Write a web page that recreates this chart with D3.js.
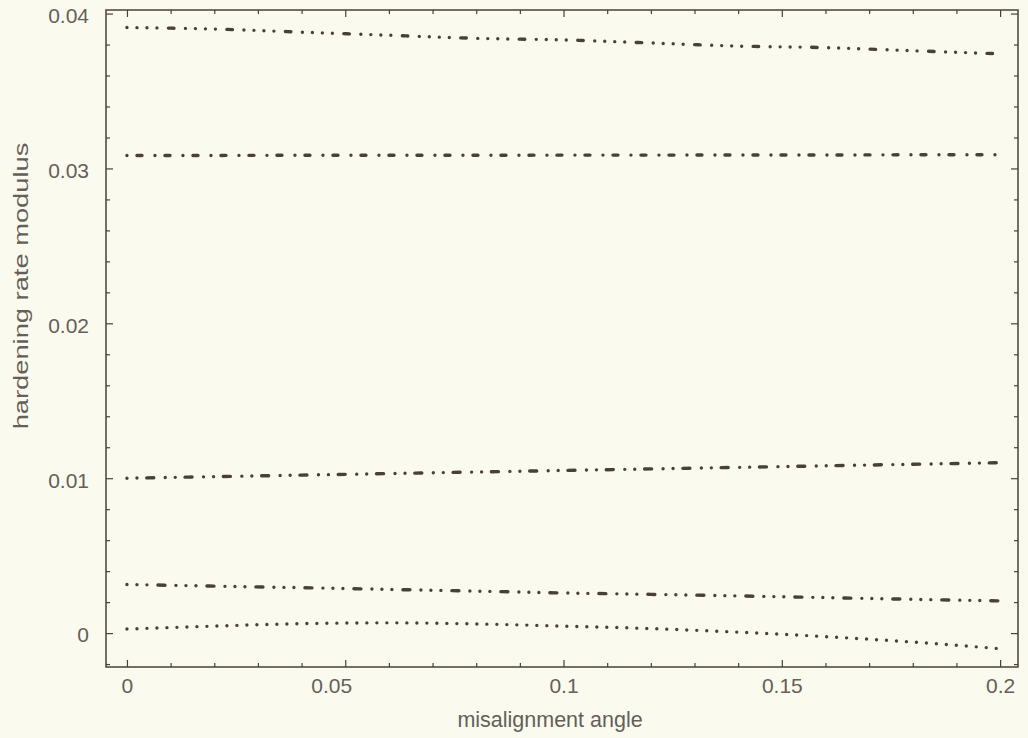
<!DOCTYPE html>
<html>
<head>
<meta charset="utf-8">
<script src="https://cdn.jsdelivr.net/npm/d3@7"></script>
<style>
  html, body { margin: 0; padding: 0; background: #fbfaee; }
  svg { display: block; }
  text { font-family: "Liberation Sans", Arial, sans-serif; }
</style>
</head>
<body>
<svg id="chart" width="1028" height="738"></svg>
<script>
// ---- data ----
const angles = [0, 0.02, 0.04, 0.06, 0.08, 0.10, 0.12, 0.14, 0.16, 0.18, 0.2];
const curveA = [0.0391, 0.0390, 0.0388, 0.0386, 0.0384, 0.0383, 0.0381, 0.0379, 0.0378, 0.0376, 0.0374];
const curveB = [0.03084, 0.03084, 0.03085, 0.03085, 0.03085, 0.03086, 0.03086, 0.03087, 0.03087, 0.03088, 0.03088];
const curveC = [0.0100, 0.0101, 0.0102, 0.0103, 0.0104, 0.0105, 0.0106, 0.0107, 0.0108, 0.0109, 0.0110];
const curveD = [0.00314, 0.00303, 0.00293, 0.00282, 0.00271, 0.00259, 0.00250, 0.00240, 0.00229, 0.00218, 0.00208];
const curveE = [0.00026, 0.00045, 0.00061, 0.00066, 0.00059, 0.00045, 0.00029, 0.00006, -0.00023, -0.00058, -0.00101];

const xTickValues = [0, 0.05, 0.1, 0.15, 0.2];
const xTickLabels = ["0", "0.05", "0.1", "0.15", "0.2"];
const yTickValues = [0, 0.01, 0.02, 0.03, 0.04];
const yTickLabels = ["0", "0.01", "0.02", "0.03", "0.04"];
const xMinorTicks = [0.01,0.02,0.03,0.04,0.06,0.07,0.08,0.09,0.11,0.12,0.13,0.14,0.16,0.17,0.18,0.19];
const yMinorTicks = [-0.002,0.002,0.004,0.006,0.008,0.012,0.014,0.016,0.018,0.022,0.024,0.026,0.028,0.032,0.034,0.036,0.038];

const xTitle = "misalignment angle";
const yTitle = "hardening rate modulus";

const series = [
  { values: curveA, dash: "0 10 0 10 0 10 0 11.5 5.5 11.5" },
  { values: curveB, dash: "0 10 5 13" },
  { values: curveC, dash: "0 10 0 9.8 7 11.5" },
  { values: curveD, dash: "0 10 0 10 0 11 7 11" },
  { values: curveE, dash: "0 10" }
];

// ---- layout ----
const L = 106, R = 1018, T = 10, B = 667;
const x = d3.scaleLinear().domain([-0.0048, 0.2041]).range([L, R]);
const y = d3.scaleLinear().domain([-0.00219, 0.04023]).range([B, T]);

const svg = d3.select("#chart");
const ink = "#4a403b";
const textCol = "#645f59";

// lines
const line = d3.line()
  .x((d, i) => x(angles[i]))
  .y(d => y(d))
  .curve(d3.curveMonotoneX);

svg.append("g").selectAll("path")
  .data(series)
  .join("path")
  .attr("d", d => line(d.values))
  .attr("fill", "none")
  .attr("stroke", ink)
  .attr("stroke-width", 3.4)
  .attr("stroke-linecap", "round")
  .attr("stroke-dasharray", d => d.dash);

// axes helper
function styleAxis(g) {
  g.select(".domain").remove();
  g.selectAll(".tick line").attr("stroke", ink).attr("stroke-width", 1.2);
  g.selectAll(".tick text").attr("fill", textCol).attr("font-size", 21);
}

// bottom major
const bottomAxis = svg.append("g").attr("transform", `translate(0,${B})`)
  .call(d3.axisBottom(x).tickValues(xTickValues).tickSize(-7).tickPadding(11)
    .tickFormat((d, i) => xTickLabels[i]))
  .call(styleAxis);
// the reference prints "0.05" slightly left of its tick
bottomAxis.selectAll(".tick text").attr("dx", d => d === 0.05 ? -14 : 0);
// bottom minor
svg.append("g").attr("transform", `translate(0,${B})`)
  .call(d3.axisBottom(x).tickValues(xMinorTicks).tickSize(-4).tickFormat(""))
  .call(styleAxis);
// top major/minor
svg.append("g").attr("transform", `translate(0,${T})`)
  .call(d3.axisTop(x).tickValues(xTickValues).tickSize(-7).tickFormat(""))
  .call(styleAxis);
svg.append("g").attr("transform", `translate(0,${T})`)
  .call(d3.axisTop(x).tickValues(xMinorTicks).tickSize(-4).tickFormat(""))
  .call(styleAxis);
// left major
const leftAxis = svg.append("g").attr("transform", `translate(${L},0)`)
  .call(d3.axisLeft(y).tickValues(yTickValues).tickSize(-7).tickPadding(17)
    .tickFormat((d, i) => yTickLabels[i]))
  .call(styleAxis);
leftAxis.selectAll(".tick text").attr("dy", "0.42em");
svg.append("g").attr("transform", `translate(${L},0)`)
  .call(d3.axisLeft(y).tickValues(yMinorTicks).tickSize(-4).tickFormat(""))
  .call(styleAxis);
// right major/minor
svg.append("g").attr("transform", `translate(${R},0)`)
  .call(d3.axisRight(y).tickValues(yTickValues).tickSize(-7).tickFormat(""))
  .call(styleAxis);
svg.append("g").attr("transform", `translate(${R},0)`)
  .call(d3.axisRight(y).tickValues(yMinorTicks).tickSize(-4).tickFormat(""))
  .call(styleAxis);

// frame
svg.append("rect")
  .attr("x", L).attr("y", T).attr("width", R - L).attr("height", B - T)
  .attr("fill", "none").attr("stroke", ink).attr("stroke-width", 1.5);

// titles
svg.append("text")
  .attr("x", 550).attr("y", 727)
  .attr("text-anchor", "middle")
  .attr("fill", textCol).attr("font-size", 21.5)
  .text(xTitle);

svg.append("text")
  .attr("transform", `translate(28,286) rotate(-90) scale(1.3,1)`)
  .attr("text-anchor", "middle")
  .attr("fill", textCol).attr("font-size", 21)
  .text(yTitle);
</script>
</body>
</html>
